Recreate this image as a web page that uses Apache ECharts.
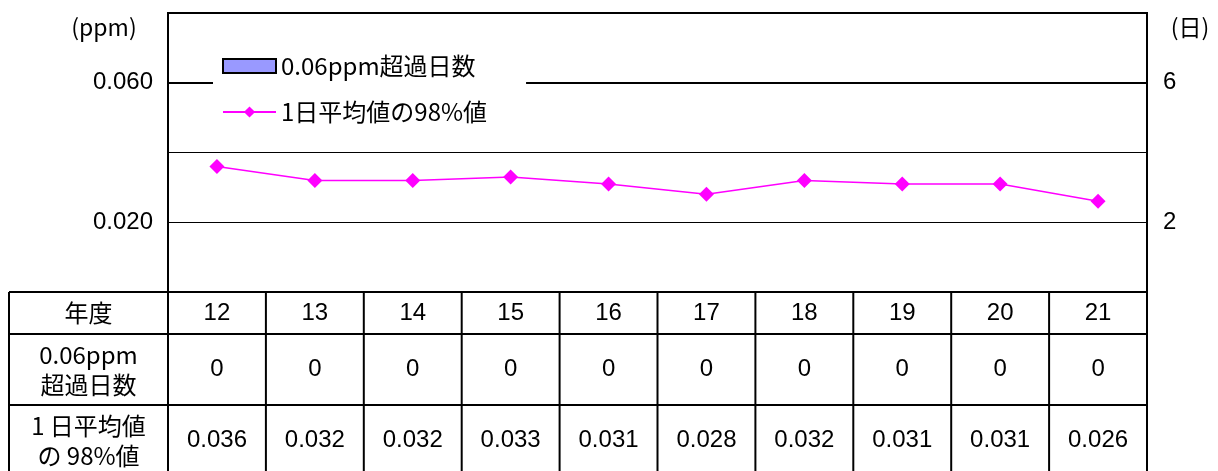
<!DOCTYPE html>
<html>
<head>
<meta charset="utf-8">
<script src="https://cdn.jsdelivr.net/npm/echarts@6/dist/echarts.min.js"></script>
<style>
  html, body { margin: 0; padding: 0; background: #fff; }
  #chart { width: 1218px; height: 471px; }
</style>
</head>
<body>
<div id="chart"></div>
<script>
// 年度 (平成)
const years = ['12', '13', '14', '15', '16', '17', '18', '19', '20', '21'];
// 0.06ppm超過日数
const exceedDays = [0, 0, 0, 0, 0, 0, 0, 0, 0, 0];
// 1日平均値の98%値 (ppm)
const avg98 = [0.036, 0.032, 0.032, 0.033, 0.031, 0.028, 0.032, 0.031, 0.031, 0.026];
// 軸ラベル
const ppmLabels = [0.020, 0.060];
const dayLabels = [2, 6];

const rowTitles = ['年度', '0.06ppm\n超過日数', '1 日平均値\nの 98%値'];

const jp = '"Noto Sans CJK JP", sans-serif';
const sans = '"Liberation Sans", Arial, sans-serif';

const chart = echarts.init(document.getElementById('chart'));

chart.setOption({
  animation: false,
  grid: {
    left: 168, right: 71, top: 13, bottom: 179,
    show: true, borderColor: '#000', borderWidth: 2
  },
  legend: {
    orient: 'vertical',
    left: 213, top: 48,
    z: 20,
    padding: [6, 39, 6, 9],
    backgroundColor: '#fff',
    itemWidth: 53, itemHeight: 14,
    itemGap: 22,
    textStyle: { fontFamily: jp, fontSize: 24, color: '#000' },
    data: [
      { name: '0.06ppm超過日数', icon: 'rect' },
      { name: '1日平均値の98%値' }
    ]
  },
  xAxis: {
    type: 'category',
    data: years,
    axisLine: { show: false },
    axisTick: { show: false },
    axisLabel: { show: false }
  },
  yAxis: [{
    type: 'value',
    min: 0, max: 0.08, interval: 0.02,
    axisLine: { show: false },
    axisTick: { show: false },
    axisLabel: {
      margin: 15,
      fontFamily: sans, fontSize: 24, color: '#000',
      formatter: v => ppmLabels.some(p => Math.abs(p - v) < 1e-9) ? v.toFixed(3) : ''
    },
    splitLine: { lineStyle: { color: '#000', width: 1.2 } }
  }, {
    type: 'value',
    min: 0, max: 8, interval: 2,
    axisLine: { show: false },
    axisTick: { show: false },
    axisLabel: {
      margin: 16,
      fontFamily: sans, fontSize: 24, color: '#000',
      formatter: v => dayLabels.includes(v) ? String(v) : ''
    },
    splitLine: { show: false }
  }],
  series: [{
    name: '0.06ppm超過日数',
    type: 'bar',
    yAxisIndex: 1,
    data: exceedDays,
    barWidth: '50%',
    itemStyle: { color: '#9999FF', borderColor: '#000', borderWidth: 1.5 }
  }, {
    name: '1日平均値の98%値',
    type: 'line',
    data: avg98,
    symbol: 'diamond',
    symbolSize: 15,
    lineStyle: { color: '#FF00FF', width: 1.5 },
    itemStyle: { color: '#FF00FF' },
    markLine: {
      silent: true,
      z: 1,
      symbol: 'none',
      label: { show: false },
      lineStyle: { color: '#000', width: 2, type: 'solid' },
      data: [{ yAxis: 0.06 }]
    }
  }]
});

function drawTable() {
  const elements = [];
  const x0 = chart.convertToPixel({ xAxisIndex: 0 }, years[0]);
  const step = chart.convertToPixel({ xAxisIndex: 0 }, years[1]) - x0;
  const tableLeft = 9;
  const firstColRight = x0 - step / 2;
  const tableRight = firstColRight + step * years.length;
  const top = chart.convertToPixel({ yAxisIndex: 0 }, 0);
  const rowH = [42, 71, 71];
  const rowY = [top];
  rowH.forEach(h => rowY.push(rowY[rowY.length - 1] + h));

  const line = (x1, y1, x2, y2) => elements.push({
    type: 'line', z: 10,
    shape: { x1, y1, x2, y2 },
    style: { stroke: '#000', lineWidth: 2 }
  });
  const text = (t, x, y, font, size, lh) => elements.push({
    type: 'text', z: 10,
    style: {
      text: t, x, y, fill: '#000',
      fontFamily: font, fontSize: size, lineHeight: lh || size + 6,
      align: 'center', verticalAlign: 'middle'
    }
  });

  rowY.forEach(y => line(tableLeft, y, tableRight, y));
  line(tableLeft, top, tableLeft, rowY[3]);
  for (let i = 0; i <= years.length; i++) {
    const x = firstColRight + i * step;
    line(x, top, x, rowY[3]);
  }

  const labelX = (tableLeft + firstColRight) / 2;
  rowTitles.forEach((t, r) => {
    text(t, labelX, (rowY[r] + rowY[r + 1]) / 2, jp, 24, 30);
  });

  years.forEach((yr, i) => {
    const cx = x0 + i * step;
    text(yr, cx, (rowY[0] + rowY[1]) / 2, sans, 24);
    text(String(exceedDays[i]), cx, (rowY[1] + rowY[2]) / 2, sans, 24);
    text(avg98[i].toFixed(3), cx, (rowY[2] + rowY[3]) / 2, sans, 24);
  });

  // 軸の単位
  text('(ppm)', 104, 27, jp, 23);
  text('(日)', 1190, 27, jp, 23);

  chart.setOption({ graphic: { elements } });
}

drawTable();
</script>
</body>
</html>
